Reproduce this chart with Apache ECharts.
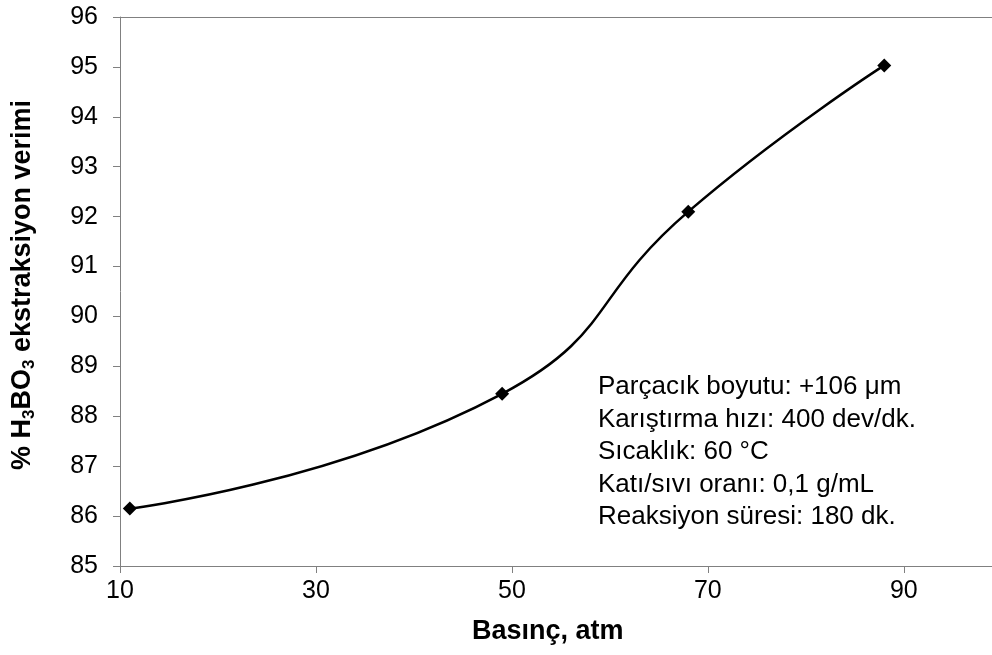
<!DOCTYPE html>
<html><head><meta charset="utf-8">
<script src="https://cdn.jsdelivr.net/npm/echarts@6/dist/echarts.min.js"></script>
<style>html,body{margin:0;padding:0;background:#fff}#c{width:992px;height:655px}</style>
</head><body><div id="c"></div>
<script>
const pressure = [11, 49, 68, 88];
const yieldPct = [86.15, 88.45, 92.1, 95.03];
const xTicks = [10, 30, 50, 70, 90];
const yTicks = [85, 86, 87, 88, 89, 90, 91, 92, 93, 94, 95, 96];
const noteLines = ['Parçacık boyutu: +106 μm', 'Karıştırma hızı: 400 dev/dk.', 'Sıcaklık: 60 °C', 'Katı/sıvı oranı: 0,1 g/mL', 'Reaksiyon süresi: 180 dk.'];
const xTitle = 'Basınç, atm';
const yTitle = '% H{s|3}BO{s|3} ekstraksiyon verimi';

const chart = echarts.init(document.getElementById('c'), null, {renderer: 'canvas'});
const F = 'Liberation Sans, Arial, sans-serif';
const axisCol = '#808080';
chart.setOption({
  animation: false,
  grid: {left: 120, right: 0, top: 17, bottom: 89},
  xAxis: [{
    type: 'value', min: 10, max: 99, interval: 20,
    axisLine: {lineStyle: {color: axisCol}},
    axisTick: {show: true, length: 7, lineStyle: {color: axisCol}},
    splitLine: {show: false},
    axisLabel: {color: '#000', fontSize: 25, fontFamily: F, margin: 13, showMaxLabel: false,
      formatter: v => xTicks.includes(v) ? String(v) : ''}
  }, {
    type: 'value', min: 10, max: 99, position: 'top',
    axisLine: {show: true, lineStyle: {color: axisCol}},
    axisTick: {show: false}, axisLabel: {show: false}, splitLine: {show: false}
  }],
  yAxis: {
    type: 'value', min: yTicks[0], max: yTicks[yTicks.length - 1], interval: 1,
    axisLine: {show: true, lineStyle: {color: axisCol}},
    axisTick: {show: true, length: 7, inside: false, lineStyle: {color: axisCol}},
    splitLine: {show: false},
    axisLabel: {color: '#000', fontSize: 25, fontFamily: F, margin: 22}
  },
  series: [{
    type: 'line', smooth: 0.5,
    data: pressure.map((x, i) => [x, yieldPct[i]]),
    symbol: 'diamond', symbolSize: 14,
    itemStyle: {color: '#000'},
    lineStyle: {color: '#000', width: 2.5}
  }],
  graphic: [
    {type: 'text', x: 23, y: 285, rotation: Math.PI / 2,
      style: {text: yTitle, align: 'center', verticalAlign: 'middle', fontSize: 27, fontWeight: 'bold', fontFamily: F, fill: '#000',
        rich: {s: {fontSize: 17, fontWeight: 'bold', fontFamily: F, verticalAlign: 'bottom', padding: [12, 0, 0, 0], fill: '#000'}}}},
    {type: 'text', left: 472, top: 618, style: {text: xTitle, fontSize: 27, fontWeight: 'bold', fontFamily: F, fill: '#000'}},
    {type: 'text', left: 598, top: 371, style: {text: noteLines.join('\n'), fontSize: 26, lineHeight: 32.5, fontFamily: F, fill: '#000'}}
  ]
});
</script></body></html>
